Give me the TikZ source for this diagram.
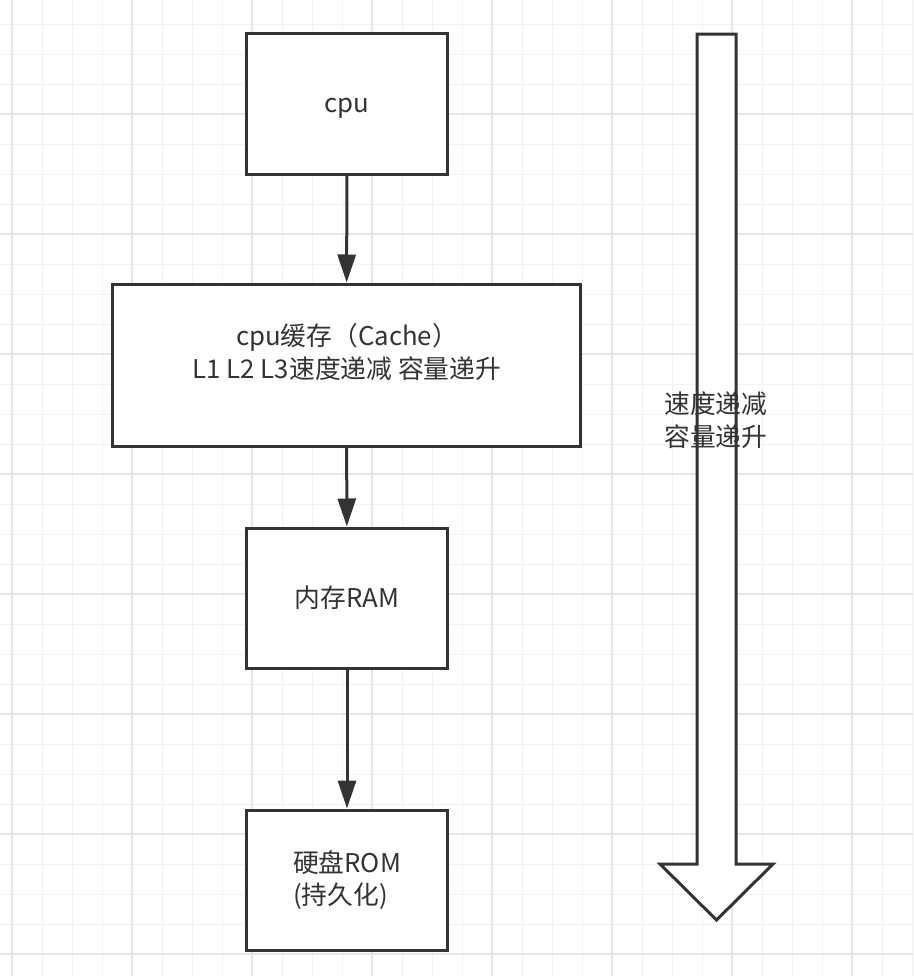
\documentclass[tikz,border=0pt]{standalone}
\usepackage{fontspec}
\setmainfont{Noto Sans CJK SC}
\usetikzlibrary{arrows.meta}
\definecolor{ink}{HTML}{333333}
\definecolor{gridminor}{HTML}{F2F2F2}
\definecolor{gridmajor}{HTML}{E6E6E6}

\begin{document}
\begin{tikzpicture}[x=0.03cm,y=-0.03cm,
  box/.style={draw=ink,line width=0.09cm,fill=white,text=ink,inner sep=0pt,
              font=\fontsize{22}{28}\selectfont},
  flow/.style={draw=ink,line width=0.09cm,
               -{Triangle[width=0.54cm,length=0.84cm]}},
  words/.style={text=ink,inner sep=0pt,font=\fontsize{22}{28}\selectfont}]
  \useasboundingbox (0,0) rectangle (913,976);
  \fill[white] (0,0) rectangle (913,976);
  % grid paper
  \foreach \gx in {12,42,...,912}
    \draw[gridminor,line width=0.03cm] (\gx,0) -- (\gx,976);
  \foreach \gy in {24,54,...,976}
    \draw[gridminor,line width=0.03cm] (0,\gy) -- (913,\gy);
  \foreach \gx in {12,132,...,912}
    \draw[gridmajor,line width=0.045cm] (\gx,0) -- (\gx,976);
  \foreach \gy in {114,234,...,976}
    \draw[gridmajor,line width=0.045cm] (0,\gy) -- (913,\gy);

  % memory levels
  \node[box,minimum width=6cm,minimum height=4.2cm] (cpu) at (347,104) {};
  \node[words] (cputext) at (347,108) {cpu};
  \node[box,minimum width=14.01cm,minimum height=4.86cm] (cache) at (346.5,365) {};
  \node[words,align=center] (cachetext) at (347,352)
    {cpu缓存（Cache）\\L1 L2 L3速度递减 容量递升};
  \node[box,minimum width=6cm,minimum height=4.2cm] (ram) at (347,598) {内存RAM};
  \node[box,minimum width=6cm,minimum height=4.2cm,align=left] (rom) at (347,880)
    {硬盘ROM\\(持久化)};

  \draw[flow] (cpu) -- (cache);
  \draw[flow] (cache) -- (ram);
  \draw[flow] (ram) -- (rom);

  % speed / capacity trend
  \draw[ink,line width=0.09cm,fill=white,line join=miter]
    (697,34) -- (736,34) -- (736,864) -- (773,864) -- (716.5,920)
    -- (660,864) -- (697,864) -- cycle;
  \node[words,align=left,anchor=west] (trend) at (664,420) {速度递减\\容量递升};
\end{tikzpicture}
\end{document}
